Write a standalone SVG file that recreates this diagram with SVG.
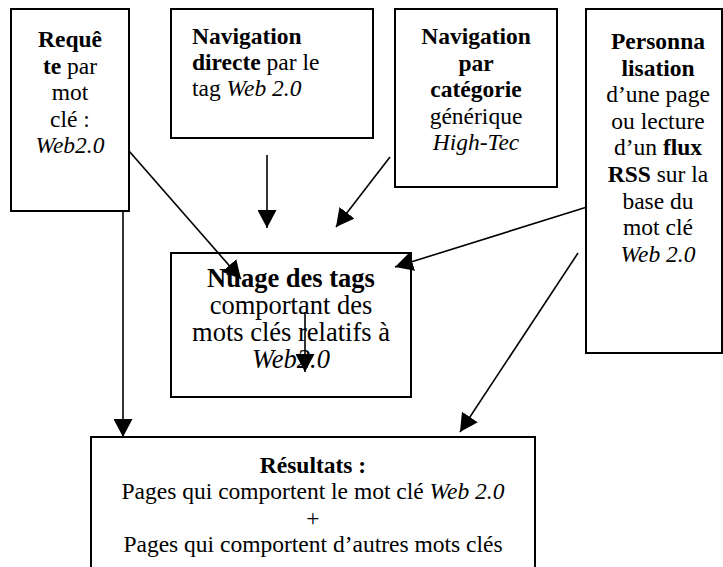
<svg xmlns="http://www.w3.org/2000/svg" width="723" height="567" viewBox="0 0 723 567">
<style>
.box{fill:#fff;stroke:#000;stroke-width:2}
.conn line{stroke:#000;stroke-width:1.6;marker-end:url(#ah)}
</style>
<defs>
<marker id="ah" markerUnits="userSpaceOnUse" viewBox="0 0 18 19" markerWidth="18" markerHeight="19" refX="18" refY="9.5" orient="auto">
<path d="M0,0 L18,9.5 L0,19 z" fill="#000"/>
</marker>
</defs>
<rect width="723" height="567" fill="#fff"/>
<g id="requete">
<rect class="box" x="11" y="9" width="118" height="202"/>
<text font-family="Liberation Serif" font-size="23.5" text-anchor="middle" x="70" y="47" font-weight="bold">Requê</text>
<text font-family="Liberation Serif" font-size="23.5" text-anchor="middle" x="70" y="73.5"><tspan font-weight="bold">te</tspan> par</text>
<text font-family="Liberation Serif" font-size="23.5" text-anchor="middle" x="70" y="100">mot</text>
<text font-family="Liberation Serif" font-size="23.5" text-anchor="middle" x="70" y="126.5">clé :</text>
<text font-family="Liberation Serif" font-size="23.5" text-anchor="middle" x="70" y="153" font-style="italic">Web2.0</text>
</g>
<g id="navigation-directe">
<rect class="box" x="171" y="9" width="202" height="129"/>
<text font-family="Liberation Serif" font-size="23.5" x="192" y="44" font-weight="bold">Navigation</text>
<text font-family="Liberation Serif" font-size="23.5" x="192" y="70"><tspan font-weight="bold">directe</tspan> par le</text>
<text font-family="Liberation Serif" font-size="23.5" x="192" y="96">tag <tspan font-style="italic">Web 2.0</tspan></text>
</g>
<g id="navigation-categorie">
<rect class="box" x="395" y="9" width="162" height="178"/>
<text font-family="Liberation Serif" font-size="23.5" text-anchor="middle" x="476" y="44" font-weight="bold">Navigation</text>
<text font-family="Liberation Serif" font-size="23.5" text-anchor="middle" x="476" y="70.5" font-weight="bold">par</text>
<text font-family="Liberation Serif" font-size="23.5" text-anchor="middle" x="476" y="97" font-weight="bold">catégorie</text>
<text font-family="Liberation Serif" font-size="23.5" text-anchor="middle" x="476" y="123.5">générique</text>
<text font-family="Liberation Serif" font-size="23.5" text-anchor="middle" x="476" y="150" font-style="italic">High-Tec</text>
</g>
<g id="personnalisation">
<rect class="box" x="586" y="9" width="136" height="344"/>
<text font-family="Liberation Serif" font-size="23.5" text-anchor="middle" x="658" y="49" font-weight="bold">Personna</text>
<text font-family="Liberation Serif" font-size="23.5" text-anchor="middle" x="658" y="75.6" font-weight="bold">lisation</text>
<text font-family="Liberation Serif" font-size="23.5" text-anchor="middle" x="658" y="102.2">d’une page</text>
<text font-family="Liberation Serif" font-size="23.5" text-anchor="middle" x="658" y="128.8">ou lecture</text>
<text font-family="Liberation Serif" font-size="23.5" text-anchor="middle" x="658" y="155.4">d’un <tspan font-weight="bold">flux</tspan></text>
<text font-family="Liberation Serif" font-size="23.5" text-anchor="middle" x="658" y="182"><tspan font-weight="bold">RSS</tspan> sur la</text>
<text font-family="Liberation Serif" font-size="23.5" text-anchor="middle" x="658" y="208.6">base du</text>
<text font-family="Liberation Serif" font-size="23.5" text-anchor="middle" x="658" y="235.2">mot clé</text>
<text font-family="Liberation Serif" font-size="23.5" text-anchor="middle" x="658" y="261.8" font-style="italic">Web 2.0</text>
</g>
<g id="nuage">
<rect class="box" x="171" y="253" width="240" height="144"/>
<text font-family="Liberation Serif" font-size="26.5" text-anchor="middle" x="291" y="287" font-weight="bold">Nuage des tags</text>
<text font-family="Liberation Serif" font-size="26.5" text-anchor="middle" x="291" y="314">comportant des</text>
<text font-family="Liberation Serif" font-size="26.5" text-anchor="middle" x="291" y="341">mots clés relatifs à</text>
<text font-family="Liberation Serif" font-size="26.5" text-anchor="middle" x="291" y="368" font-style="italic">Web2.0</text>
</g>
<g id="resultats">
<rect class="box" x="91" y="437" width="444" height="145"/>
<text font-family="Liberation Serif" font-size="23.5" text-anchor="middle" x="313" y="472.5" font-weight="bold">Résultats :</text>
<text font-family="Liberation Serif" font-size="23.5" text-anchor="middle" x="313" y="499">Pages qui comportent le mot clé <tspan font-style="italic">Web 2.0</tspan></text>
<text font-family="Liberation Serif" font-size="23.5" text-anchor="middle" x="313" y="525.5">+</text>
<text font-family="Liberation Serif" font-size="23.5" text-anchor="middle" x="313" y="552">Pages qui comportent d’autres mots clés</text>
</g>
<g id="connectors" class="conn">
<line x1="129" y1="151" x2="241" y2="279"/>
<line x1="267" y1="155" x2="267" y2="228"/>
<line x1="390" y1="157" x2="336" y2="227"/>
<line x1="587" y1="207" x2="395" y2="267"/>
<line x1="578" y1="253" x2="460" y2="432"/>
<line x1="123" y1="211" x2="123" y2="437"/>
<line x1="305" y1="312" x2="305" y2="372"/>
</g>
</svg>
